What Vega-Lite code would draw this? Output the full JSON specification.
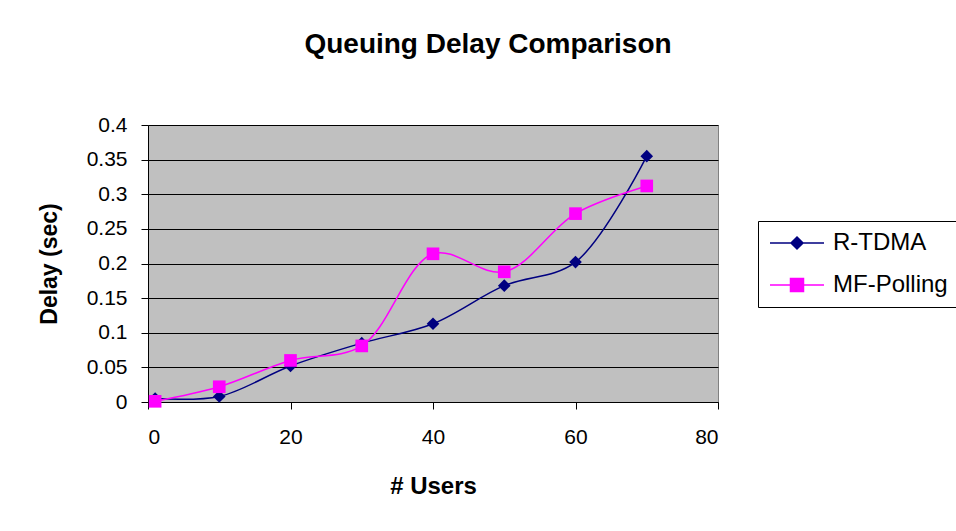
{
  "$schema": "https://vega.github.io/schema/vega-lite/v6.json",
  "width": 570,
  "height": 277,
  "autosize": {"type": "none"},
  "padding": {"left": 148, "top": 125, "right": 238, "bottom": 129},
  "background": "white",
  "config": {
    "view": {"fill": "#C0C0C0", "stroke": "#808080", "strokeWidth": 1},
    "font": "Liberation Sans"
  },
  "title": {
    "text": "Queuing Delay Comparison",
    "font": "Liberation Sans",
    "fontSize": 28,
    "fontWeight": "bold",
    "color": "black",
    "anchor": "middle",
    "dx": 55,
    "offset": 55
  },
  "data": {
    "values": [
      {"users": 1, "delay": 0.005, "series": "R-TDMA"},
      {"users": 10, "delay": 0.008, "series": "R-TDMA"},
      {"users": 20, "delay": 0.052, "series": "R-TDMA"},
      {"users": 30, "delay": 0.085, "series": "R-TDMA"},
      {"users": 40, "delay": 0.113, "series": "R-TDMA"},
      {"users": 50, "delay": 0.168, "series": "R-TDMA"},
      {"users": 60, "delay": 0.202, "series": "R-TDMA"},
      {"users": 70, "delay": 0.355, "series": "R-TDMA"},
      {"users": 1, "delay": 0.001, "series": "MF-Polling"},
      {"users": 10, "delay": 0.022, "series": "MF-Polling"},
      {"users": 20, "delay": 0.06, "series": "MF-Polling"},
      {"users": 30, "delay": 0.081, "series": "MF-Polling"},
      {"users": 40, "delay": 0.214, "series": "MF-Polling"},
      {"users": 50, "delay": 0.188, "series": "MF-Polling"},
      {"users": 60, "delay": 0.272, "series": "MF-Polling"},
      {"users": 70, "delay": 0.312, "series": "MF-Polling"}
    ]
  },
  "encoding": {
    "x": {
      "field": "users",
      "type": "quantitative",
      "title": "# Users",
      "scale": {"domain": [0, 80], "nice": false},
      "axis": {
        "values": [0, 20, 40, 60, 80],
        "grid": false,
        "domainColor": "black",
        "tickColor": "black",
        "tickSize": 7,
        "labelFont": "Liberation Sans",
        "labelFontSize": 21,
        "labelColor": "black",
        "labelPadding": 17,
        "titleFont": "Liberation Sans",
        "titleFontSize": 24,
        "titleFontWeight": "bold",
        "titleColor": "black",
        "titlePadding": 27
      }
    },
    "y": {
      "field": "delay",
      "type": "quantitative",
      "title": "Delay (sec)",
      "scale": {"domain": [0, 0.4], "nice": false},
      "axis": {
        "values": [0, 0.05, 0.1, 0.15, 0.2, 0.25, 0.3, 0.35, 0.4],
        "format": "~g",
        "grid": true,
        "gridColor": "black",
        "gridOpacity": 1,
        "gridWidth": 1,
        "domainColor": "black",
        "tickColor": "black",
        "tickSize": 7,
        "labelFont": "Liberation Sans",
        "labelFontSize": 21,
        "labelColor": "black",
        "labelPadding": 14,
        "titleFont": "Liberation Sans",
        "titleFontSize": 23,
        "titleFontWeight": "bold",
        "titleColor": "black",
        "titlePadding": 25
      }
    },
    "color": {
      "field": "series",
      "type": "nominal",
      "scale": {"domain": ["R-TDMA", "MF-Polling"], "range": ["#000080", "#FF00FF"]},
      "legend": {
        "title": null,
        "orient": "none",
        "legendX": 610,
        "legendY": 96,
        "strokeColor": "black",
        "fillColor": "white",
        "padding": 10,
        "labelFont": "Liberation Sans",
        "labelFontSize": 24,
        "labelColor": "black",
        "labelOffset": 41,
        "symbolSize": 400,
        "symbolStrokeWidth": 1.5,
        "rowPadding": 18,
        "encode": {
          "symbols": {
            "update": {
              "shape": {"signal": "datum.value == 'R-TDMA' ? 'M-1,0L4.4,0M1.7,-0.6L2.3,0L1.7,0.6L1.1,0Z' : 'M-1,0L4.4,0M1.05,-0.65L2.35,-0.65L2.35,0.65L1.05,0.65Z'"},
              "fill": {"signal": "datum.value == 'R-TDMA' ? '#000080' : '#FF00FF'"},
              "stroke": {"signal": "datum.value == 'R-TDMA' ? '#000080' : '#FF00FF'"},
              "opacity": {"value": 1}
            }
          }
        }
      }
    }
  },
  "layer": [
    {"mark": {"type": "line", "interpolate": "catmull-rom", "strokeWidth": 1.5}},
    {
      "transform": [{"filter": "datum.series == 'R-TDMA'"}],
      "mark": {"type": "point", "shape": "diamond", "filled": true, "opacity": 1, "size": 160}
    },
    {
      "transform": [{"filter": "datum.series == 'MF-Polling'"}],
      "mark": {"type": "point", "shape": "square", "filled": true, "opacity": 1, "size": 160}
    }
  ]
}
